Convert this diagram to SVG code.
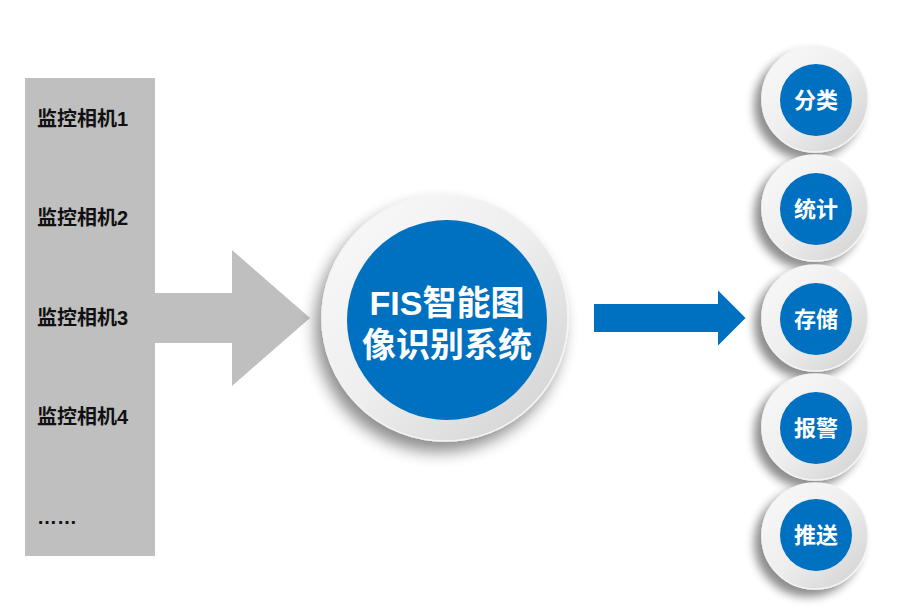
<svg xmlns="http://www.w3.org/2000/svg" width="918" height="608" viewBox="0 0 918 608">
<style>
.cam{font-family:"Liberation Sans","Noto Sans CJK SC",sans-serif;font-weight:bold;font-size:20px;fill:#111}
.wt{font-family:"Liberation Sans","Noto Sans CJK SC",sans-serif;font-weight:bold;fill:#fff;text-anchor:middle}
.ring{fill:url(#ringG);stroke:#f4f4f4;stroke-width:1.5}
.blue{fill:#0070C0}
</style>
<defs>
<linearGradient id="ringG" x1="0" y1="0" x2="1" y2="1">
<stop offset="0" stop-color="#fafafa"/>
<stop offset="0.5" stop-color="#eeeeee"/>
<stop offset="1" stop-color="#cfcfcf"/>
</linearGradient>
<filter id="sh" x="-40%" y="-40%" width="180%" height="180%">
<feGaussianBlur in="SourceAlpha" stdDeviation="8"/>
<feOffset dx="-6" dy="10" result="b"/>
<feComponentTransfer><feFuncA type="linear" slope="0.45"/></feComponentTransfer>
<feMerge><feMergeNode/><feMergeNode in="SourceGraphic"/></feMerge>
</filter>
<filter id="sh2" x="-40%" y="-40%" width="180%" height="180%">
<feGaussianBlur in="SourceAlpha" stdDeviation="5"/>
<feOffset dx="-7" dy="7" result="b"/>
<feComponentTransfer><feFuncA type="linear" slope="0.45"/></feComponentTransfer>
<feMerge><feMergeNode/><feMergeNode in="SourceGraphic"/></feMerge>
</filter>
</defs>
<rect width="918" height="608" fill="#fff"/>

<g id="cameras">
<rect x="25" y="78" width="130" height="478" fill="#bfbfbf"/>
<text class="cam" x="37" y="126">监控相机1</text>
<text class="cam" x="37" y="225">监控相机2</text>
<text class="cam" x="37" y="325">监控相机3</text>
<text class="cam" x="37" y="424">监控相机4</text>
<text class="cam" x="37" y="524">……</text>
</g>

<g id="connectors">
<polygon points="155,293 232,293 232,250 310,318 232,386 232,343 155,343" fill="#bfbfbf"/>
<polygon points="593,303 717,303 717,288 747,318 717,348 717,333 593,333" fill="#0070C0" stroke="#fff" stroke-width="2"/>
</g>

<g id="fis">
<circle class="ring" cx="445" cy="318" r="123" filter="url(#sh)"/>
<circle class="blue" cx="447" cy="320" r="100"/>
<text class="wt" x="447" y="315" font-size="34">FIS智能图</text>
<text class="wt" x="447" y="357" font-size="34">像识别系统</text>
</g>

<g id="out1">
<circle class="ring" cx="815" cy="99" r="53" filter="url(#sh2)"/>
<circle class="blue" cx="816" cy="100" r="36"/>
<text class="wt" x="816" y="108" font-size="22">分类</text>
</g>
<g id="out2">
<circle class="ring" cx="815" cy="208" r="53" filter="url(#sh2)"/>
<circle class="blue" cx="816" cy="209" r="36"/>
<text class="wt" x="816" y="217" font-size="22">统计</text>
</g>
<g id="out3">
<circle class="ring" cx="815" cy="318" r="53" filter="url(#sh2)"/>
<circle class="blue" cx="816" cy="319" r="36"/>
<text class="wt" x="816" y="327" font-size="22">存储</text>
</g>
<g id="out4">
<circle class="ring" cx="815" cy="427" r="53" filter="url(#sh2)"/>
<circle class="blue" cx="816" cy="428" r="36"/>
<text class="wt" x="816" y="436" font-size="22">报警</text>
</g>
<g id="out5">
<circle class="ring" cx="815" cy="536" r="53" filter="url(#sh2)"/>
<circle class="blue" cx="816" cy="535" r="36"/>
<text class="wt" x="816" y="543" font-size="22">推送</text>
</g>
</svg>
